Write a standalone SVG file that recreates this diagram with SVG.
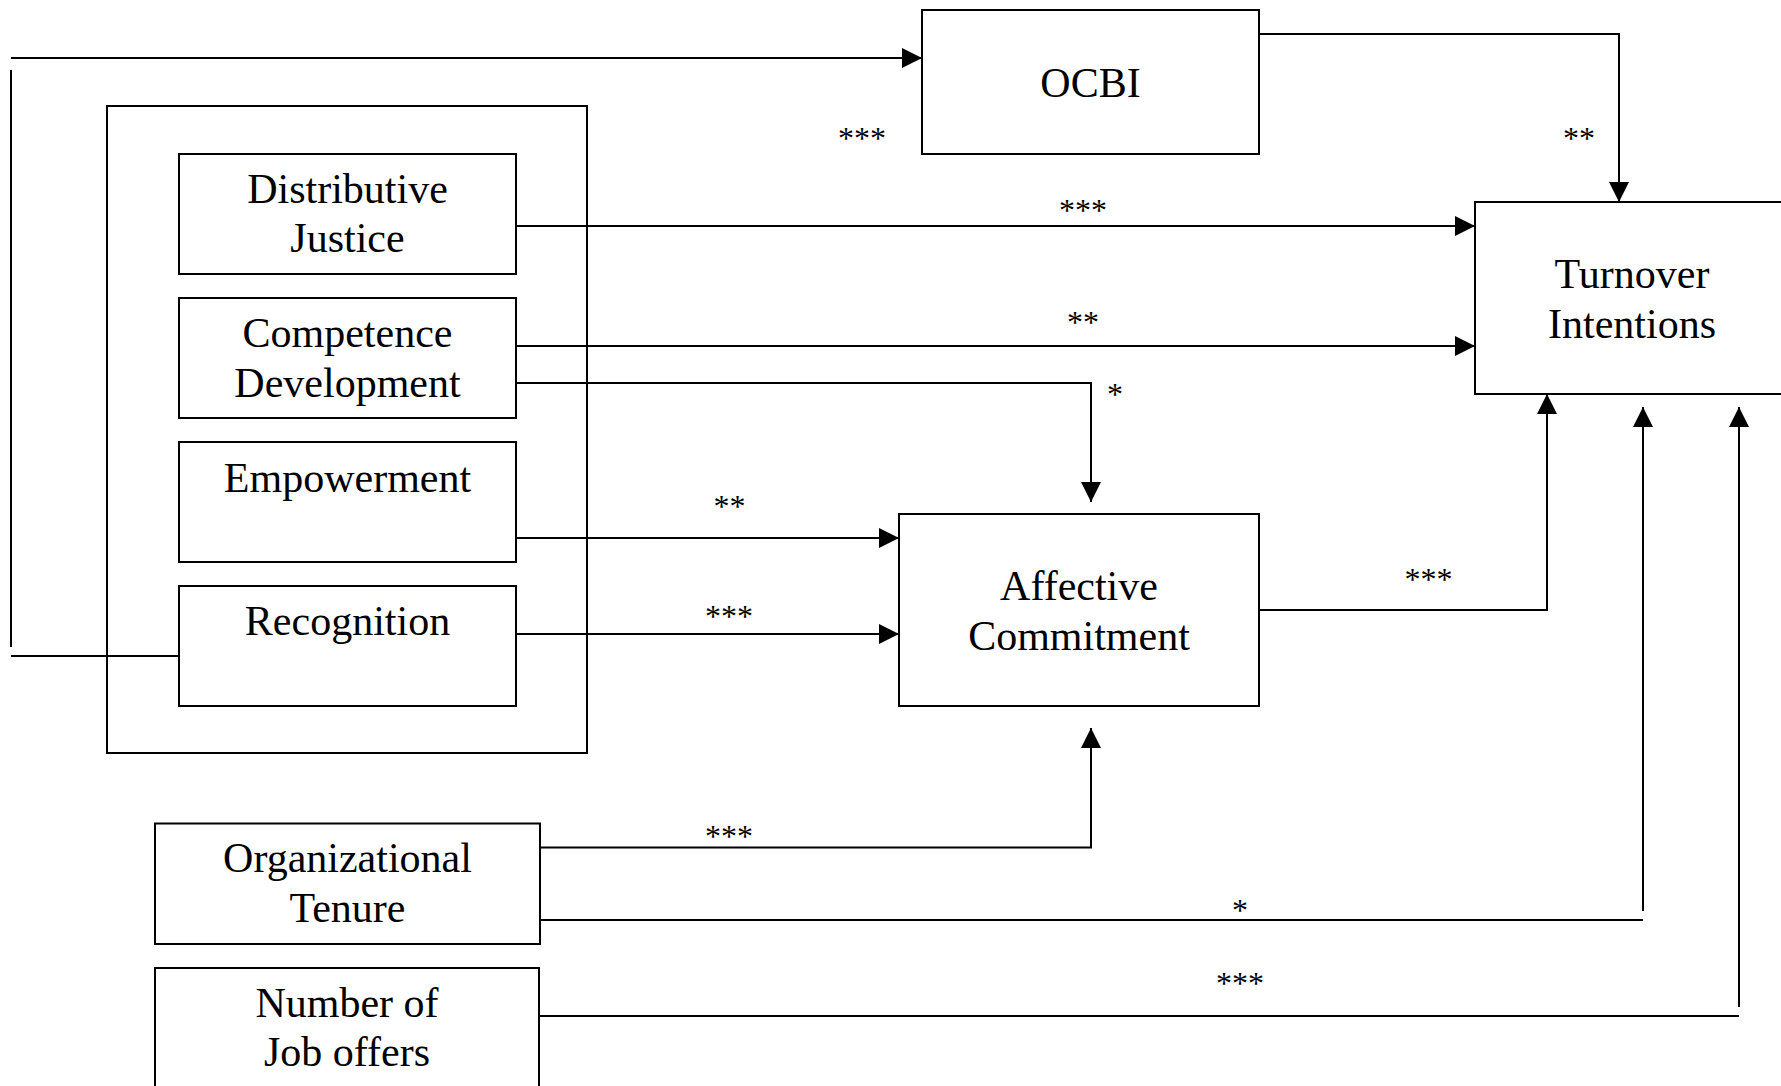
<svg xmlns="http://www.w3.org/2000/svg" width="1781" height="1086" viewBox="0 0 1781 1086">
<style>
.box{fill:#fff;stroke:#000;stroke-width:2}
.frame{fill:none;stroke:#000;stroke-width:2}
.lbl{font-family:"Liberation Serif","Times New Roman",serif;font-size:42px;fill:#000;text-anchor:middle}
.sig{font-family:"Liberation Serif","Times New Roman",serif;font-size:32px;fill:#000;text-anchor:middle}
.c{fill:none;stroke:#000;stroke-width:2}
.a{marker-end:url(#arr)}
</style>
<defs>
<marker id="arr" markerUnits="userSpaceOnUse" markerWidth="20" markerHeight="20" refX="20" refY="10" orient="auto">
<path d="M0,0 L20,10 L0,20 Z" fill="#000"/>
</marker>
</defs>
<rect width="1781" height="1086" fill="#fff"/>
<g id="hr-practices"><rect class="frame" x="107" y="106" width="480" height="647"/></g>
<g id="connectors">
<path class="c a" d="M11,58 H922"/>
<path class="c" d="M11,70 V647"/>
<path class="c" d="M11,656 H179"/>
<path class="c a" d="M516,226 H1475"/>
<path class="c a" d="M516,346 H1475"/>
<path class="c a" d="M516,383 H1091 V502"/>
<path class="c a" d="M516,538 H899"/>
<path class="c a" d="M516,634 H899"/>
<path class="c a" d="M1259,34 H1619 V202"/>
<path class="c a" d="M1259,610 H1547 V394"/>
<path class="c a" d="M540,847.5 H1091 V728"/>
<path class="c" d="M540,920 H1643"/>
<path class="c a" d="M1643,911 V407"/>
<path class="c" d="M540,1016 H1739"/>
<path class="c a" d="M1739,1007 V407"/>
<text class="sig" x="862" y="148.5">***</text>
<text class="sig" x="1083" y="221">***</text>
<text class="sig" x="1579" y="148.5">**</text>
<text class="sig" x="1083" y="332.5">**</text>
<text class="sig" x="1115" y="405">*</text>
<text class="sig" x="729.5" y="516.5">**</text>
<text class="sig" x="729" y="626.5">***</text>
<text class="sig" x="1428.5" y="589.5">***</text>
<text class="sig" x="729" y="847">***</text>
<text class="sig" x="1240" y="921">*</text>
<text class="sig" x="1240" y="994">***</text>
</g>
<g id="ocbi"><rect class="box" x="922" y="10" width="337" height="144"/><text class="lbl" x="1090.5" y="97">OCBI</text></g>
<g id="distributive-justice"><rect class="box" x="179" y="154" width="337" height="120"/><text class="lbl" x="347.5" y="202.7">Distributive</text><text class="lbl" x="347.5" y="251.7">Justice</text></g>
<g id="competence-development"><rect class="box" x="179" y="298" width="337" height="120"/><text class="lbl" x="347.5" y="346.7">Competence</text><text class="lbl" x="347.5" y="396.7">Development</text></g>
<g id="empowerment"><rect class="box" x="179" y="442" width="337" height="120"/><text class="lbl" x="347.5" y="491.7">Empowerment</text></g>
<g id="recognition"><rect class="box" x="179" y="586" width="337" height="120"/><text class="lbl" x="347.5" y="635">Recognition</text></g>
<g id="turnover-intentions"><rect class="box" x="1475" y="202" width="330" height="192"/><text class="lbl" x="1632" y="288.3">Turnover</text><text class="lbl" x="1632" y="337.7">Intentions</text></g>
<g id="affective-commitment"><rect class="box" x="899" y="514" width="360" height="192"/><text class="lbl" x="1079" y="600">Affective</text><text class="lbl" x="1079" y="650">Commitment</text></g>
<g id="organizational-tenure"><rect class="box" x="155" y="823.5" width="385" height="120.5"/><text class="lbl" x="347.5" y="871.7">Organizational</text><text class="lbl" x="347.5" y="921.7">Tenure</text></g>
<g id="job-offers"><rect class="box" x="155" y="968" width="384" height="140"/><text class="lbl" x="347" y="1016.5">Number of</text><text class="lbl" x="347" y="1066">Job offers</text></g>
</svg>
